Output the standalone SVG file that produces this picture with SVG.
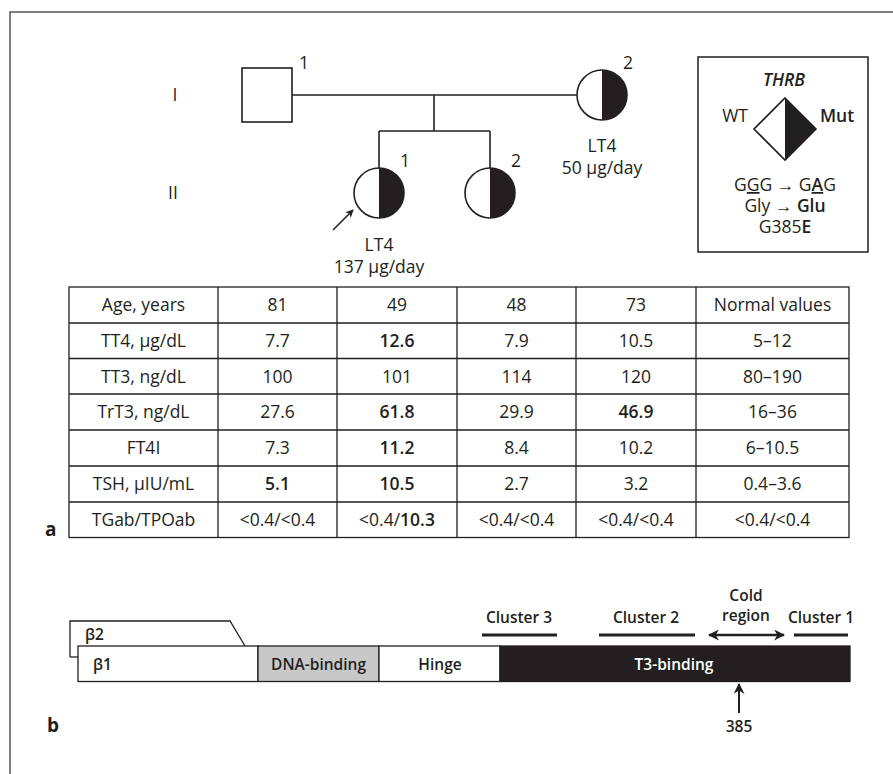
<svg xmlns="http://www.w3.org/2000/svg" width="893" height="774" viewBox="0 0 893 774">
<style>
text{font-family:"Open Sans","Noto Sans","Liberation Sans",sans-serif;fill:#231f20;}
.t{font-size:17.5px;}
.c{text-anchor:middle;}
.b{font-weight:600;}
.ln{stroke:#231f20;stroke-width:1.6;fill:none;}
.cell{stroke:#231f20;stroke-width:1.3;fill:none;}
.bx{font-size:15.5px;font-weight:600;}
.bar{stroke:#231f20;stroke-width:3;}
</style>
<defs>
<marker id="ah" viewBox="0 0 10 10" refX="9" refY="5" markerWidth="8" markerHeight="8" orient="auto-start-reverse" markerUnits="userSpaceOnUse">
<path d="M0,0 L10,5 L0,10 L3,5 Z" fill="#231f20"/>
</marker>
<marker id="ah2" viewBox="0 0 10 10" refX="9" refY="5" markerWidth="11" markerHeight="11" orient="auto-start-reverse" markerUnits="userSpaceOnUse">
<path d="M0,0 L10,5 L0,10 L3,5 Z" fill="#231f20"/>
</marker>
</defs>
<rect width="893" height="774" fill="#fff"/>
<!-- frame -->
<path d="M10,774 V12 H893" stroke="#555" stroke-width="1.5" fill="none"/>

<!-- generation labels -->
<text class="t c" x="175" y="101">I</text>
<text class="t c" x="173" y="199">II</text>

<!-- connectors -->
<g id="connectors">
<path class="ln" d="M292,95 H577"/>
<path class="ln" d="M434,95 V131"/>
<path class="ln" d="M379,131 H490"/>
<path class="ln" d="M379,131 V168"/>
<path class="ln" d="M490,131 V168"/>
<path class="ln" d="M333,230 L353,210" marker-end="url(#ah)"/>
</g>

<g id="I-1">
<rect class="ln" x="242" y="68" width="50" height="54" fill="#fff"/>
<text class="t" x="299" y="69">1</text>
</g>
<g id="I-2">
<circle class="ln" cx="602" cy="95" r="25" fill="#fff"/>
<path d="M602,70 A25,25 0 0 1 602,120 Z" fill="#231f20"/>
<text class="t" x="623" y="69">2</text>
<text class="t c" x="602" y="152">LT4</text>
<text class="t c" x="602" y="174">50 µg/day</text>
</g>
<g id="II-1">
<circle class="ln" cx="379" cy="193" r="25" fill="#fff"/>
<path d="M379,168 A25,25 0 0 1 379,218 Z" fill="#231f20"/>
<text class="t" x="400" y="167">1</text>
<text class="t c" x="379" y="251">LT4</text>
<text class="t c" x="379" y="273">137 µg/day</text>
</g>
<g id="II-2">
<circle class="ln" cx="490" cy="193" r="25" fill="#fff"/>
<path d="M490,168 A25,25 0 0 1 490,218 Z" fill="#231f20"/>
<text class="t" x="511" y="167">2</text>
</g>

<g id="legend">
<rect x="698" y="57" width="170" height="195" fill="#fff" stroke="#231f20" stroke-width="1.5"/>
<text class="t c b" x="784" y="86" font-style="italic">THRB</text>
<polygon class="ln" points="785,98 816,129 785,160 754,129" fill="#fff"/>
<polygon points="785,98 816,129 785,160" fill="#231f20"/>
<text class="t" x="748" y="122" text-anchor="end">WT</text>
<text class="t b" x="820" y="122">Mut</text>
<text class="t c" x="785" y="191">G<tspan text-decoration="underline">G</tspan>G → G<tspan class="b" text-decoration="underline">A</tspan>G</text>
<text class="t c" x="785" y="212">Gly → <tspan class="b">Glu</tspan></text>
<text class="t c" x="785" y="233">G385<tspan class="b">E</tspan></text>
</g>

<!-- table -->
<g id="table">
<rect class="cell" x="69" y="287" width="780" height="250.5"/>
<path class="cell" d="M218,287V537.5 M337,287V537.5 M457,287V537.5 M576,287V537.5 M696,287V537.5"/>
<path class="cell" d="M69,323H849 M69,358.5H849 M69,394H849 M69,430H849 M69,466H849 M69,502H849"/>
<g class="t c">
<text x="143.5" y="311">Age, years</text>
<text x="277.5" y="311">81</text>
<text x="397" y="311">49</text>
<text x="516.5" y="311">48</text>
<text x="636" y="311">73</text>
<text x="772.5" y="311">Normal values</text>

<text x="143.5" y="347">TT4, µg/dL</text>
<text x="277.5" y="347">7.7</text>
<text x="397" y="347" class="b">12.6</text>
<text x="516.5" y="347">7.9</text>
<text x="636" y="347">10.5</text>
<text x="772.5" y="347">5–12</text>

<text x="143.5" y="382.5">TT3, ng/dL</text>
<text x="277.5" y="382.5">100</text>
<text x="397" y="382.5">101</text>
<text x="516.5" y="382.5">114</text>
<text x="636" y="382.5">120</text>
<text x="772.5" y="382.5">80–190</text>

<text x="143.5" y="418">TrT3, ng/dL</text>
<text x="277.5" y="418">27.6</text>
<text x="397" y="418" class="b">61.8</text>
<text x="516.5" y="418">29.9</text>
<text x="636" y="418" class="b">46.9</text>
<text x="772.5" y="418">16–36</text>

<text x="143.5" y="454">FT4I</text>
<text x="277.5" y="454">7.3</text>
<text x="397" y="454" class="b">11.2</text>
<text x="516.5" y="454">8.4</text>
<text x="636" y="454">10.2</text>
<text x="772.5" y="454">6–10.5</text>

<text x="143.5" y="490">TSH, µIU/mL</text>
<text x="277.5" y="490" class="b">5.1</text>
<text x="397" y="490" class="b">10.5</text>
<text x="516.5" y="490">2.7</text>
<text x="636" y="490">3.2</text>
<text x="772.5" y="490">0.4–3.6</text>

<text x="143.5" y="526">TGab/TPOab</text>
<text x="277.5" y="526">&lt;0.4/&lt;0.4</text>
<text x="397" y="526">&lt;0.4/<tspan class="b">10.3</tspan></text>
<text x="516.5" y="526">&lt;0.4/&lt;0.4</text>
<text x="636" y="526">&lt;0.4/&lt;0.4</text>
<text x="772.5" y="526">&lt;0.4/&lt;0.4</text>
</g>
</g>
<text x="45" y="536" font-size="19" font-weight="bold">a</text>

<!-- part b -->
<g id="beta2">
<path d="M70,657 V621 H230 L245,646" stroke="#231f20" stroke-width="1.3" fill="#fff"/>
<path d="M70,657 H78" stroke="#231f20" stroke-width="1.3"/>
<text class="bx" x="85" y="640">β2</text>
</g>
<g id="beta1">
<rect x="78" y="646" width="180" height="35.5" fill="#fff" stroke="#231f20" stroke-width="1.3"/>
<text class="bx" x="93" y="670">β1</text>
</g>
<g id="dna">
<rect x="258" y="646" width="121" height="35.5" fill="#c8c8c9" stroke="#231f20" stroke-width="1.3"/>
<text class="bx c" x="318.5" y="670">DNA-binding</text>
</g>
<g id="hinge">
<rect x="379" y="646" width="121" height="35.5" fill="#fff" stroke="#231f20" stroke-width="1.3"/>
<text class="bx c" x="440" y="670">Hinge</text>
</g>
<g id="t3">
<rect x="500" y="646" width="350" height="35.5" fill="#231f20" stroke="#231f20" stroke-width="1.3"/>
<text class="bx c" x="674" y="670" style="fill:#fff">T3-binding</text>
</g>
<g id="clusters">
<line class="bar" x1="482" y1="635" x2="557" y2="635"/>
<text class="bx c" x="519" y="623">Cluster 3</text>
<line class="bar" x1="599" y1="635" x2="695" y2="635"/>
<text class="bx c" x="646" y="623">Cluster 2</text>
<line class="bar" x1="794" y1="635" x2="848" y2="635"/>
<text class="bx c" x="821" y="623">Cluster 1</text>
<line x1="709" y1="635" x2="784" y2="635" stroke="#231f20" stroke-width="2.5" marker-start="url(#ah2)" marker-end="url(#ah2)"/>
<text class="bx c" x="746" y="601">Cold</text>
<text class="bx c" x="746" y="621">region</text>
</g>
<g id="pos385">
<line x1="739" y1="713" x2="739" y2="684" stroke="#231f20" stroke-width="2" marker-end="url(#ah2)"/>
<text class="bx c" x="739" y="732">385</text>
</g>
<text x="47" y="732" font-size="19" font-weight="bold">b</text>
</svg>
